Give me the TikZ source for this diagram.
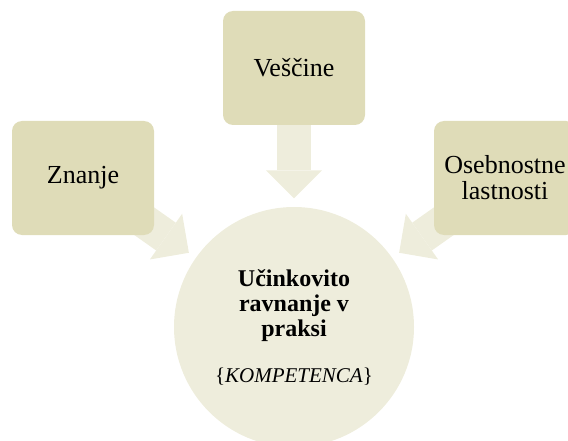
\documentclass[tikz,border=0pt]{standalone}
\usepackage{fontspec}
\setmainfont{Liberation Serif}
\usetikzlibrary{arrows.meta, backgrounds}
\definecolor{olivebox}{HTML}{DFDCB8}
\definecolor{olivelight}{HTML}{EEEDDC}

\begin{document}
\begin{tikzpicture}[x=1pt, y=-1pt,
    skupina/.style={fill=olivebox, rounded corners=10pt, minimum width=142pt,
        minimum height=114pt, align=center, inner sep=0pt,
        font=\fontsize{26}{26}\selectfont},
    puscica/.style={olivelight, line width=34pt, shorten >=8.5pt,
        -{Triangle[width=56pt, length=28pt, line width=0pt]}}]
    \useasboundingbox (0,0) rectangle (568,441);

    \node[skupina] (znanje) at (83,178) {Znanje};
    \node[skupina] (vescine) at (294,68) {Veščine};
    \node[skupina] (osebnost) at (505,178) {Osebnostne\\lastnosti};

    \node[circle, fill=olivelight, minimum size=240pt, inner sep=0pt, align=center,
          font=\fontsize{24}{25}\selectfont] (krog) at (294,327)
        {\textbf{Učinkovito}\\\textbf{ravnanje v}\\\textbf{praksi}\\[21pt]
         {\fontsize{21}{25}\selectfont\{\textit{KOMPETENCA}\}}};

    \begin{scope}[on background layer]
        \draw[puscica] (znanje.center) -- (krog);
        \draw[puscica] (vescine.center) -- (krog);
        \draw[puscica] (osebnost.center) -- (krog);
    \end{scope}
\end{tikzpicture}
\end{document}
